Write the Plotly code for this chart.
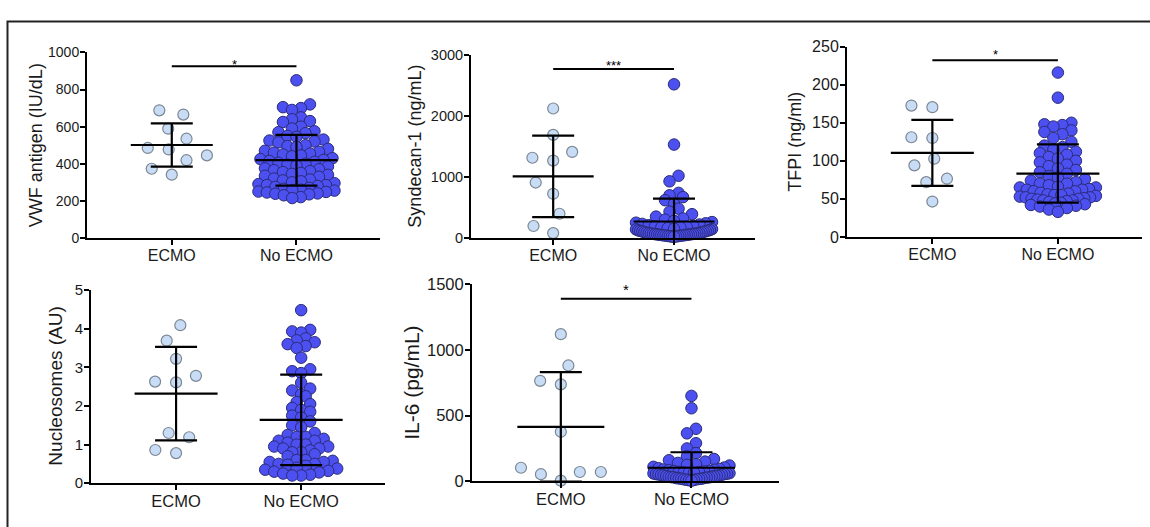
import plotly.graph_objects as go

W, H = 1150, 527
groups = ["ECMO", "No ECMO"]

# ---------------- data ----------------
vwf_ecmo = [688, 665, 589, 535, 485, 477, 445, 419, 373, 341]
vwf_no_ecmo = [850, 720, 705, 700, 690, 650, 640, 630, 625, 600, 590, 575, 570, 565,
               550, 545, 530, 525, 520, 515, 500, 495, 490, 480, 470, 465, 460, 455,
               450, 445, 440, 430, 425, 420, 415, 410, 405, 400, 395, 390, 385, 375,
               370, 365, 360, 355, 350, 345, 340, 335, 330, 320, 315, 310, 305, 300,
               295, 290, 285, 285, 280, 275, 270, 265, 260, 258, 255, 250, 248, 245,
               240, 238, 235, 230, 220, 215]
vwf_mean = [501, 419]
vwf_sd = [117, 137]

syn_ecmo = [2127, 1693, 1413, 1317, 1270, 910, 725, 397, 196, 79]
syn_no_ecmo = [2524, 1534, 1021, 930, 740, 700, 670, 620, 560, 480, 430, 390, 350, 320,
               300, 280, 260, 250, 240, 230, 220, 210, 200, 190, 180, 175, 170, 160,
               150, 145, 140, 130, 125, 120, 115, 110, 105, 100, 95, 90, 85, 80, 78,
               75, 72, 70, 68, 65, 62, 60, 58, 55, 52, 50, 48, 45, 42, 40, 38, 35, 32,
               30, 28, 25, 22, 20]
syn_mean = [1011, 270]
syn_sd = [670, 375]

tfpi_ecmo = [172.6, 170.5, 131, 130, 102.8, 94, 76.5, 72, 46.5]
tfpi_no_ecmo = [216, 183, 150, 148, 147, 145, 140, 138, 135, 130, 125, 120, 118, 115,
                112, 110, 108, 105, 103, 100, 98, 95, 93, 90, 88, 85, 83, 80, 78, 76,
                74, 72, 70, 70, 68, 66, 65, 65, 63, 62, 62, 60, 60, 58, 57, 56, 55, 55,
                54, 53, 52, 52, 51, 50, 50, 49, 48, 48, 47, 46, 45, 44, 43, 42, 41, 40,
                38, 36, 33]
tfpi_mean = [110.4, 83.3]
tfpi_sd = [43.4, 38.3]

nuc_ecmo = [4.09, 3.69, 3.22, 2.78, 2.61, 2.63, 1.30, 1.19, 0.86, 0.78]
nuc_no_ecmo = [4.48, 3.97, 3.93, 3.90, 3.75, 3.70, 3.65, 3.60, 3.55, 3.50, 3.25, 2.95,
               2.90, 2.85, 2.60, 2.45, 2.40, 2.30, 2.25, 2.10, 2.05, 1.95, 1.90, 1.85,
               1.75, 1.70, 1.60, 1.50, 1.45, 1.30, 1.25, 1.20, 1.20, 1.15, 1.10, 1.10,
               1.05, 1.00, 1.00, 0.95, 0.95, 0.90, 0.90, 0.85, 0.80, 0.80, 0.75, 0.70,
               0.60, 0.60, 0.58, 0.55, 0.55, 0.50, 0.50, 0.48, 0.45, 0.40, 0.38, 0.35,
               0.32, 0.30, 0.28, 0.25, 0.22, 0.20, 0.20]
nuc_mean = [2.32, 1.64]
nuc_sd = [1.21, 1.17]

il6_ecmo = [1120, 882, 738, 765, 377, 103, 71, 54, 71, 5]
il6_no_ecmo = [650, 556, 400, 365, 290, 250, 215, 190, 170, 160, 150, 140, 130, 125,
               120, 110, 105, 100, 95, 90, 88, 85, 80, 78, 75, 72, 70, 68, 65, 65, 62,
               60, 58, 55, 55, 52, 50, 48, 45, 45, 42, 40, 38, 35, 35, 32, 30, 30, 28,
               25, 25, 22, 20, 20, 18, 15, 15, 12, 10, 8, 5]
il6_mean = [414, 103]
il6_sd = [417, 118]

y_titles = ["VWF antigen (IU/dL)", "Syndecan-1 (ng/mL)", "TFPI (ng/ml)",
            "Nucleosomes (AU)", "IL-6 (pg/mL)"]
y_max = [1000, 3000, 250, 5, 1500]
y_step = [200, 1000, 50, 1, 500]
sig_text = ["*", "***", "*", None, "*"]
sig_level = [925, 2775, 232, None, 1390]

# ---------------- styling / geometry ----------------
ECMO_FILL, ECMO_EDGE = "#c8ddf5", "#7b8794"
NO_FILL, NO_EDGE = "#4d50f0", "#2a2c78"
FONT = "Liberation Sans, Arial, Helvetica, sans-serif"
X_RANGE = [-0.68, 1.67]

# axes boxes in pixels: left, right, top, bottom
boxes = [(87, 380, 45, 237), (471, 755, 48, 237), (847, 1142, 39, 236),
         (91, 385, 291, 491), (472, 779, 285, 489)]
ytick_font = [14, 14.5, 16, 15, 16.5]
xtick_font = [16, 16, 16, 16.5, 16.5]
title_font = [18, 18, 18, 19, 21]
title_x = [36, 415, 795, 56, 412]
star_font = [13, 13, 13, 13, 15]
star_shift = [2, 4, 5.5, 0, 9]
mean_len = [82, 81, 83, 83, 87]


def px_x(v):
    return v / W


def px_y(v):
    return 1 - v / H


def beeswarm(values, centre, px_per_y, px_per_x, d):
    """Classic beeswarm: each point (lowest first) goes to the free spot
    closest to the category centre, keeping d pixels between centres."""
    placed = []
    xs = [float(centre)] * len(values)
    for i in sorted(range(len(values)), key=lambda j: values[j]):
        y = values[i] * px_per_y
        cands = [0.0]
        for px, py in placed:
            dy = abs(py - y)
            if dy < d:
                dx = (d * d - dy * dy) ** 0.5
                cands += [px - dx, px + dx]
        cands.sort(key=lambda c: (abs(c), c))
        pos = cands[-1]
        for c in cands:
            if all((c - px) ** 2 + (y - py) ** 2 >= d * d - 0.01 for px, py in placed):
                pos = c
                break
        placed.append((pos, y))
        xs[i] = centre + pos / px_per_x
    return xs


def row_swarm(values, centre, px_per_y, px_per_x, row_px, col_px, max_half_px):
    """Row-binned dot layout for large groups: values falling in the same
    pixel row are spread symmetrically, squeezed to a maximum half-width."""
    order = sorted(range(len(values)), key=lambda i: values[i])
    rows = []
    for i in order:
        py = values[i] * px_per_y
        if rows and py - rows[-1][0] < row_px:
            rows[-1][1].append(i)
        else:
            rows.append([py, [i]])
    xs = [float(centre)] * len(values)
    for _, members in rows:
        n = len(members)
        step = col_px
        if n > 1 and (n - 1) * col_px > 2 * max_half_px:
            step = 2 * max_half_px / (n - 1)
        slots = [(k - (n - 1) / 2) * step for k in range(n)]
        slots.sort(key=lambda s: (abs(s), s))
        for i, s in zip(members, slots):
            xs[i] = centre + s / px_per_x
    return xs


ecmo_sets = [vwf_ecmo, syn_ecmo, tfpi_ecmo, nuc_ecmo, il6_ecmo]
no_sets = [vwf_no_ecmo, syn_no_ecmo, tfpi_no_ecmo, nuc_no_ecmo, il6_no_ecmo]
means = [vwf_mean, syn_mean, tfpi_mean, nuc_mean, il6_mean]
sds = [vwf_sd, syn_sd, tfpi_sd, nuc_sd, il6_sd]

fig = go.Figure()
layout = dict(
    width=W, height=H, margin=dict(l=0, r=0, t=0, b=0),
    paper_bgcolor="white", plot_bgcolor="rgba(0,0,0,0)",
    showlegend=False, font=dict(family=FONT, color="#1a1a1a"),
)
annotations = []
shapes = [
    # outer frame of the figure
    dict(type="rect", xref="paper", yref="paper", x0=px_x(7.5), x1=1.2,
         y0=-0.2, y1=px_y(13), line=dict(color="#222222", width=2)),
]

for k in range(5):
    n = k + 1
    xa = "x" if n == 1 else f"x{n}"
    ya = "y" if n == 1 else f"y{n}"
    left, right, top, bottom = boxes[k]
    px_per_x = (right - left) / (X_RANGE[1] - X_RANGE[0])
    px_per_y = (bottom - top) / y_max[k]

    layout["xaxis" if n == 1 else f"xaxis{n}"] = dict(
        domain=[px_x(left), px_x(right)], range=X_RANGE, anchor=ya,
        tickmode="array", tickvals=[0, 1], ticktext=groups,
        showline=True, linecolor="black", linewidth=2,
        ticks="outside", ticklen=5, tickwidth=2, tickcolor="black",
        ticklabelstandoff=-3,
        showgrid=False, zeroline=False, fixedrange=True,
        tickfont=dict(size=xtick_font[k], family=FONT, color="#1a1a1a"),
    )
    layout["yaxis" if n == 1 else f"yaxis{n}"] = dict(
        domain=[px_y(bottom), px_y(top)], range=[0, y_max[k]], anchor=xa,
        tickmode="linear", tick0=0, dtick=y_step[k],
        showline=True, linecolor="black", linewidth=2,
        ticks="outside", ticklen=5, tickwidth=2, tickcolor="black",
        ticklabelstandoff=-2,
        showgrid=False, zeroline=False, fixedrange=True,
        tickfont=dict(size=ytick_font[k], family=FONT, color="#1a1a1a"),
    )

    ecmo = ecmo_sets[k]
    no = no_sets[k]
    fig.add_trace(go.Scatter(
        x=beeswarm(ecmo, 0, px_per_y, px_per_x, 21), y=ecmo,
        xaxis=xa, yaxis=ya, mode="markers", cliponaxis=False,
        marker=dict(size=11, color=ECMO_FILL, line=dict(color=ECMO_EDGE, width=1.2)),
        hoverinfo="y",
    ))
    fig.add_trace(go.Scatter(
        x=row_swarm(no, 1, px_per_y, px_per_x, 8, 9, 38), y=no,
        xaxis=xa, yaxis=ya, mode="markers", cliponaxis=False,
        marker=dict(size=11.5, color=NO_FILL, line=dict(color=NO_EDGE, width=1)),
        hoverinfo="y",
    ))
    # mean line with +/- SD whiskers
    fig.add_trace(go.Scatter(
        x=[0, 1], y=means[k], xaxis=xa, yaxis=ya, mode="markers",
        marker=dict(symbol="line-ew", size=mean_len[k] / 1.4, color="black",
                    line=dict(color="black", width=2.2)),
        error_y=dict(type="data", array=sds[k], visible=True, color="black",
                     thickness=2.2, width=21),
        hoverinfo="y",
    ))

    annotations.append(dict(
        text=y_titles[k], textangle=-90, showarrow=False,
        xref="paper", yref="paper", x=px_x(title_x[k]), y=px_y((top + bottom) / 2),
        xanchor="center", yanchor="middle",
        font=dict(size=title_font[k], family=FONT, color="#1a1a1a"),
    ))

    if sig_text[k]:
        shapes.append(dict(type="line", xref=xa, yref=ya, x0=0, x1=1,
                           y0=sig_level[k], y1=sig_level[k],
                           line=dict(color="black", width=2)))
        annotations.append(dict(
            text=sig_text[k], showarrow=False, xref=xa, yref=ya,
            x=0.5, y=sig_level[k], xanchor="center", yanchor="middle",
            yshift=star_shift[k],
            font=dict(size=star_font[k], family=FONT, color="black"),
        ))

layout["annotations"] = annotations
layout["shapes"] = shapes
fig.update_layout(**layout)

fig.write_html("out.html", config={"displayModeBar": False})
